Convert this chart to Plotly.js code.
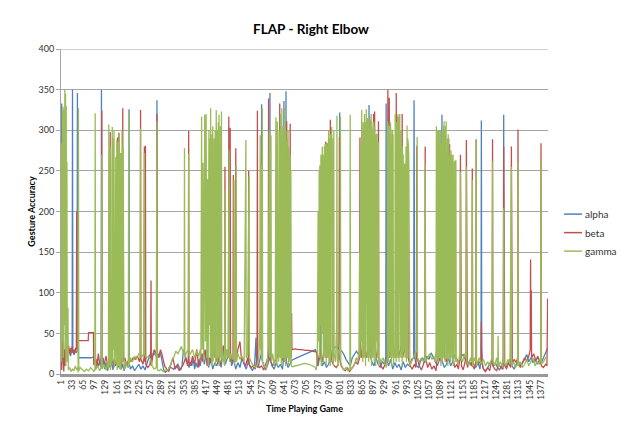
<!DOCTYPE html>
<html>
<head>
<meta charset="utf-8">
<script src="https://cdn.plot.ly/plotly-3.0.1.min.js"></script>
<style>
html,body{margin:0;padding:0;background:#fff;}
#chart{width:622px;height:421px;}
</style>
</head>
<body>
<div id="chart"></div>
<script>
// Tick labels of the category axis (every 32nd sample)
const tickLabels = ["1","33","65","97","129","161","193","225","257","289","321","353","385","417","449","481","513","545","577","609","641","673","705","737","769","801","833","865","897","929","961","993","1025","1057","1089","1121","1153","1185","1217","1249","1281","1313","1345","1377"];
const seriesNames = ["alpha","beta","gamma"];

// [sample index, value] pairs
const alpha = [[1,20],[2,40],[3,333],[4,30],[6,25],[8,40],[10,15],[12,30],[14,22],[16,35],[18,20],[20,28],[22,32],[24,26],[26,30],[28,22],[30,25],[32,28],[33,30],[34,350],[35,28],[38,24],[41,30],[44,26],[47,28],[48,346],[49,25],[51,20],[60,20],[70,20],[80,20],[88,20],[94,21],[96,15],[100,12],[104,18],[108,10],[112,14],[116,8],[117,350],[118,10],[122,20],[126,6],[130,14],[134,4],[138,12],[142,8],[146,15],[150,5],[154,18],[158,10],[162,22],[166,8],[170,16],[174,6],[178,12],[182,4],[186,10],[190,14],[194,8],[195,15],[196,326],[197,12],[200,6],[206,10],[212,4],[218,8],[224,12],[230,6],[236,10],[242,5],[248,14],[254,22],[258,25],[262,20],[266,26],[270,24],[274,22],[275,20],[276,337],[277,20],[280,24],[284,26],[288,22],[292,10],[296,4],[300,2],[304,3],[308,5],[312,9],[316,8],[320,7],[324,6],[328,8],[332,10],[336,12],[340,8],[344,5],[348,10],[352,30],[356,24],[360,18],[364,12],[368,8],[372,15],[376,10],[380,20],[384,6],[388,14],[392,8],[396,18],[400,10],[406,25],[412,12],[418,30],[424,8],[430,20],[436,6],[442,14],[448,10],[454,22],[460,8],[466,30],[472,12],[478,20],[484,34],[490,10],[496,18],[502,6],[508,14],[514,8],[520,20],[526,12],[532,6],[538,16],[544,8],[550,4],[556,12],[560,45],[562,10],[566,8],[570,16],[574,20],[575,25],[576,332],[577,18],[582,10],[588,5],[594,12],[598,20],[599,30],[600,346],[601,20],[606,10],[612,6],[618,14],[624,8],[630,12],[636,6],[639,20],[640,336],[641,15],[644,20],[645,30],[646,348],[647,15],[652,8],[658,12],[663,17],[672,19],[682,21],[692,23],[702,25],[712,27],[722,28],[730,30],[734,26],[738,10],[742,20],[744,40],[745,254],[746,20],[750,10],[756,15],[762,8],[768,12],[774,20],[780,30],[786,33],[792,34],[798,30],[799,40],[800,322],[801,30],[806,28],[812,24],[818,18],[824,14],[830,10],[836,20],[842,24],[848,28],[854,24],[860,30],[866,20],[872,28],[878,20],[882,30],[884,331],[886,25],[892,15],[898,10],[904,20],[910,12],[916,8],[922,15],[928,12],[932,20],[933,333],[934,20],[940,10],[946,18],[952,6],[958,14],[964,8],[970,12],[976,5],[982,15],[988,8],[994,12],[1000,10],[1006,18],[1012,20],[1013,337],[1014,197],[1015,20],[1020,10],[1026,8],[1032,16],[1038,20],[1044,14],[1050,22],[1056,18],[1062,26],[1068,20],[1074,14],[1080,10],[1086,18],[1092,20],[1093,319],[1094,15],[1100,8],[1106,12],[1112,20],[1118,10],[1124,15],[1130,24],[1136,18],[1142,14],[1148,22],[1154,24],[1160,18],[1166,10],[1172,16],[1178,20],[1184,12],[1190,8],[1196,15],[1202,6],[1205,20],[1206,312],[1207,30],[1210,8],[1216,4],[1222,6],[1228,12],[1234,16],[1240,10],[1246,14],[1252,8],[1258,5],[1264,10],[1269,15],[1270,319],[1271,12],[1276,8],[1282,14],[1288,18],[1294,10],[1300,6],[1306,12],[1312,16],[1318,10],[1324,14],[1330,18],[1336,24],[1342,15],[1348,20],[1354,14],[1360,18],[1366,12],[1372,16],[1378,14],[1384,20],[1390,26],[1396,32]];

const beta = [[1,181],[2,20],[3,5],[5,40],[7,15],[9,3],[11,30],[13,10],[15,38],[17,30],[19,34],[21,28],[23,35],[25,30],[27,24],[29,32],[31,28],[33,34],[35,26],[37,30],[39,24],[41,28],[43,32],[45,30],[46,200],[47,30],[49,36],[50,64],[51,41],[60,41],[70,41],[79,41],[80,51],[90,51],[94,51],[95,11],[100,20],[104,8],[108,25],[112,12],[116,18],[117,20],[118,324],[119,15],[124,10],[130,22],[136,8],[140,20],[141,30],[142,298],[143,20],[146,12],[150,18],[155,10],[160,14],[162,30],[163,291],[164,20],[166,40],[167,297],[168,20],[171,15],[174,272],[175,10],[177,40],[178,327],[179,15],[184,20],[190,10],[196,20],[202,15],[208,20],[214,18],[220,22],[226,15],[228,20],[229,325],[230,18],[236,12],[239,20],[240,280],[241,15],[242,30],[243,281],[244,12],[250,8],[256,12],[258,20],[259,115],[260,10],[264,22],[268,30],[272,25],[275,30],[276,320],[277,25],[282,20],[286,30],[290,25],[294,18],[298,10],[304,6],[310,3],[316,12],[322,20],[328,6],[334,10],[340,4],[346,8],[352,12],[358,20],[364,10],[366,20],[367,299],[368,15],[372,10],[378,22],[384,12],[390,30],[396,8],[402,25],[408,15],[414,30],[420,10],[426,20],[432,12],[438,30],[443,20],[444,291],[445,15],[450,20],[456,10],[462,18],[466,35],[470,25],[471,255],[472,20],[476,30],[481,20],[482,317],[483,20],[485,30],[486,303],[487,15],[490,20],[494,15],[495,245],[496,20],[500,25],[502,278],[503,15],[508,30],[514,40],[518,20],[524,15],[530,10],[536,20],[538,15],[539,250],[540,12],[546,8],[552,10],[558,6],[562,15],[563,20],[564,324],[565,12],[570,8],[576,10],[582,5],[588,12],[594,20],[595,30],[596,339],[597,20],[602,15],[608,10],[614,15],[620,20],[626,30],[627,40],[628,333],[629,30],[634,20],[640,15],[646,30],[647,40],[648,311],[649,30],[652,20],[656,30],[657,40],[658,308],[659,30],[661,20],[662,75],[663,30],[672,31],[682,30],[692,30],[702,29],[712,29],[722,28],[730,28],[734,27],[736,10],[740,20],[744,30],[750,15],[755,30],[759,30],[760,286],[761,20],[763,40],[764,284],[765,20],[770,30],[772,40],[773,313],[774,30],[778,15],[784,10],[790,8],[796,12],[798,30],[799,292],[800,20],[804,10],[810,6],[816,4],[822,8],[828,3],[834,6],[840,10],[846,15],[852,12],[857,20],[858,291],[859,30],[862,20],[866,40],[867,300],[868,30],[874,20],[880,30],[887,40],[888,313],[889,30],[892,20],[896,40],[897,320],[898,30],[899,50],[900,323],[901,30],[906,20],[910,40],[911,311],[912,20],[918,10],[924,6],[930,12],[936,20],[937,30],[938,350],[939,20],[941,40],[942,340],[943,20],[950,30],[956,20],[961,40],[962,346],[963,20],[966,40],[967,317],[968,20],[974,30],[978,40],[979,320],[980,20],[986,30],[994,40],[995,283],[996,20],[1002,10],[1008,6],[1014,12],[1018,8],[1020,30],[1021,281],[1022,20],[1028,10],[1034,5],[1040,12],[1044,20],[1045,280],[1046,20],[1052,8],[1058,14],[1064,6],[1070,10],[1076,4],[1082,30],[1083,299],[1084,20],[1090,15],[1098,40],[1099,300],[1100,20],[1106,15],[1114,40],[1115,283],[1116,20],[1122,40],[1123,262],[1124,20],[1130,8],[1136,12],[1140,6],[1145,20],[1146,270],[1147,20],[1148,263],[1149,10],[1154,5],[1158,12],[1162,20],[1163,288],[1164,10],[1165,60],[1166,8],[1172,15],[1178,10],[1179,20],[1180,253],[1181,10],[1186,6],[1190,15],[1191,289],[1192,10],[1198,16],[1204,12],[1205,20],[1206,64],[1207,15],[1212,6],[1218,3],[1224,8],[1230,4],[1237,20],[1238,289],[1239,10],[1244,6],[1250,4],[1256,12],[1262,8],[1268,6],[1269,20],[1270,280],[1271,30],[1272,265],[1273,12],[1278,6],[1284,14],[1290,8],[1291,20],[1292,280],[1293,30],[1294,257],[1295,12],[1300,18],[1306,14],[1310,20],[1311,301],[1312,12],[1318,8],[1324,14],[1330,20],[1336,16],[1342,22],[1346,30],[1347,141],[1348,40],[1349,103],[1350,20],[1356,25],[1362,16],[1368,22],[1374,12],[1376,20],[1377,284],[1378,10],[1384,8],[1390,12],[1394,10],[1395,40],[1396,93]];

const gamma = [[1,30],[2,284],[3,15],[4,120],[5,323],[6,40],[7,329],[8,20],[9,326],[10,60],[11,305],[12,350],[13,30],[14,345],[15,10],[16,330],[17,50],[18,261],[19,15],[21,82],[22,5],[26,8],[30,3],[34,6],[38,4],[42,10],[46,5],[49,8],[50,2],[51,327],[52,4],[56,8],[62,5],[68,3],[74,6],[80,4],[86,8],[92,5],[96,3],[98,6],[99,321],[100,5],[106,10],[112,4],[116,8],[117,30],[118,270],[119,6],[124,12],[130,5],[135,15],[137,5],[138,307],[139,10],[141,60],[142,280],[143,5],[146,20],[147,250],[148,304],[149,15],[151,290],[152,30],[153,300],[154,8],[156,40],[158,267],[159,12],[161,288],[162,5],[164,20],[165,286],[166,10],[168,296],[169,6],[171,40],[172,272],[173,5],[176,300],[177,15],[179,280],[180,10],[182,5],[186,15],[190,10],[194,8],[195,321],[196,10],[200,20],[206,15],[212,22],[218,18],[224,25],[228,24],[229,302],[230,20],[234,22],[238,25],[240,272],[241,24],[246,20],[252,22],[258,18],[262,10],[268,6],[274,8],[276,311],[277,5],[282,4],[288,6],[294,3],[300,5],[306,4],[312,8],[318,15],[324,20],[330,28],[336,25],[342,30],[346,34],[350,28],[354,25],[355,278],[356,20],[360,26],[366,30],[367,271],[368,22],[372,25],[378,30],[384,20],[390,28],[396,22],[400,30],[402,20],[404,317],[406,30],[408,260],[410,15],[413,319],[415,40],[417,320],[419,20],[421,240],[423,10],[425,300],[427,60],[428,290],[429,20],[430,327],[431,50],[432,280],[433,10],[434,295],[435,30],[436,305],[437,15],[438,270],[439,40],[440,290],[441,280],[442,20],[443,300],[444,10],[446,325],[447,30],[448,290],[449,15],[450,300],[451,20],[452,310],[453,40],[454,319],[455,10],[456,290],[457,30],[458,305],[459,20],[461,323],[462,15],[464,30],[466,20],[470,10],[471,226],[472,15],[476,30],[480,20],[483,276],[484,15],[488,25],[492,18],[496,20],[497,239],[498,12],[501,20],[503,257],[504,15],[508,25],[514,18],[520,22],[526,15],[531,288],[532,20],[536,25],[540,243],[541,20],[546,15],[552,10],[558,8],[564,12],[568,20],[571,60],[572,294],[573,30],[575,257],[576,20],[578,327],[579,15],[584,10],[590,6],[595,30],[598,300],[599,20],[601,60],[603,294],[604,15],[608,25],[612,10],[615,20],[617,316],[618,30],[619,290],[620,10],[621,311],[623,40],[624,300],[625,15],[626,300],[627,50],[628,310],[629,20],[630,320],[631,30],[632,290],[633,10],[634,327],[635,40],[636,300],[637,20],[638,305],[639,50],[640,310],[641,15],[642,327],[643,30],[644,295],[645,10],[646,300],[647,40],[648,290],[649,20],[650,290],[651,30],[652,300],[653,10],[654,280],[655,25],[656,270],[657,15],[658,270],[659,20],[660,250],[661,10],[664,9],[672,10],[680,11],[690,12],[700,13],[710,12],[720,10],[728,9],[733,5],[736,30],[738,200],[740,40],[741,250],[742,20],[743,257],[745,60],[746,270],[747,10],[748,262],[749,30],[750,280],[751,50],[752,270],[753,15],[754,275],[755,40],[756,280],[757,20],[758,283],[759,30],[760,275],[761,10],[762,285],[763,50],[764,280],[765,20],[766,280],[767,40],[768,300],[769,15],[770,290],[771,30],[772,270],[773,10],[774,295],[775,40],[776,280],[777,304],[778,20],[779,300],[780,30],[781,290],[782,10],[783,300],[784,25],[786,20],[788,15],[791,60],[792,318],[793,20],[796,10],[801,40],[802,317],[803,15],[806,10],[812,5],[818,8],[824,4],[829,6],[830,319],[831,5],[836,8],[842,12],[848,20],[852,15],[855,30],[857,150],[858,20],[860,280],[861,40],[863,325],[864,30],[865,300],[866,15],[867,310],[868,40],[869,300],[870,20],[871,320],[872,30],[873,310],[874,10],[876,326],[877,40],[878,310],[879,20],[880,315],[881,30],[882,300],[883,15],[884,315],[885,40],[886,305],[887,20],[888,300],[889,30],[890,320],[891,10],[892,310],[893,40],[894,305],[895,20],[896,300],[897,30],[898,310],[899,15],[900,305],[901,30],[902,300],[903,10],[904,295],[905,40],[906,290],[907,296],[908,20],[909,290],[910,30],[911,285],[912,10],[913,280],[914,20],[918,15],[924,20],[930,12],[934,8],[936,20],[937,311],[938,30],[939,300],[940,15],[941,305],[942,40],[943,300],[944,20],[945,310],[946,30],[947,295],[948,10],[949,300],[950,50],[951,300],[952,20],[953,295],[954,10],[956,30],[957,280],[958,20],[959,320],[960,40],[961,300],[962,15],[963,310],[964,30],[965,290],[966,20],[967,320],[968,40],[969,310],[970,15],[971,300],[972,320],[973,30],[974,310],[975,20],[976,300],[977,40],[978,290],[979,10],[980,280],[981,20],[982,270],[984,30],[986,259],[987,20],[988,250],[989,40],[990,280],[991,15],[992,300],[993,306],[994,20],[995,290],[996,30],[997,280],[998,260],[999,15],[1001,10],[1006,15],[1012,20],[1016,25],[1021,30],[1022,292],[1023,20],[1028,15],[1034,20],[1040,15],[1044,20],[1045,259],[1046,15],[1052,20],[1058,25],[1064,18],[1070,22],[1074,15],[1076,30],[1077,305],[1078,20],[1079,280],[1080,40],[1081,300],[1082,15],[1083,290],[1084,30],[1085,300],[1086,20],[1087,295],[1088,40],[1089,300],[1090,10],[1091,290],[1092,30],[1093,285],[1094,15],[1095,300],[1096,40],[1097,305],[1098,20],[1099,311],[1100,30],[1101,300],[1102,15],[1103,305],[1104,40],[1105,311],[1106,20],[1107,300],[1108,30],[1109,290],[1110,10],[1111,295],[1112,40],[1113,290],[1114,20],[1115,280],[1116,30],[1117,270],[1118,15],[1119,275],[1120,40],[1121,270],[1122,20],[1123,265],[1124,30],[1125,270],[1126,10],[1127,265],[1128,30],[1129,260],[1130,20],[1131,263],[1132,15],[1133,263],[1134,20],[1138,12],[1142,18],[1145,30],[1146,249],[1147,20],[1152,15],[1158,25],[1162,20],[1163,255],[1164,15],[1170,10],[1175,20],[1179,15],[1180,239],[1181,10],[1186,20],[1190,15],[1191,288],[1192,10],[1196,15],[1200,20],[1206,12],[1212,18],[1218,10],[1224,15],[1230,10],[1236,20],[1238,262],[1239,15],[1244,10],[1250,20],[1253,10],[1254,47],[1255,8],[1260,15],[1266,10],[1269,20],[1270,204],[1271,15],[1276,10],[1282,18],[1288,12],[1292,255],[1293,10],[1298,15],[1304,8],[1310,12],[1311,260],[1312,10],[1318,15],[1324,8],[1330,12],[1336,18],[1342,10],[1348,15],[1354,20],[1360,10],[1366,15],[1372,12],[1376,20],[1377,265],[1378,12],[1384,15],[1390,20],[1396,18]];

const seriesData = [alpha, beta, gamma];
const colors = ["#4F81BD", "#C0504D", "#9BBB59"];
const tickVals = tickLabels.map(Number);
const FONT = "Lato, 'Open Sans', sans-serif";

const traces = seriesData.map((pts, i) => ({
  type: "scatter",
  mode: "lines",
  name: seriesNames[i],
  x: pts.map(p => p[0]),
  y: pts.map(p => p[1]),
  line: {color: colors[i], width: 1.3},
  hoverinfo: "skip",
  showlegend: false
}));

// Excel-style legend on the right: short line + label per series
const legendShapes = seriesNames.map((n, i) => ({
  type: "line", xref: "paper", yref: "paper",
  x0: 1.033, x1: 1.070, y0: 0.492 - i * 0.057, y1: 0.492 - i * 0.057,
  line: {color: colors[i], width: 1.5}
}));
const legendLabels = seriesNames.map((n, i) => ({
  text: n, xref: "paper", yref: "paper", x: 1.072, y: 0.492 - i * 0.057,
  xanchor: "left", yanchor: "middle", showarrow: false,
  font: {family: FONT, size: 10, color: "#333"}
}));

// top gridline at 400
const topGrid = {type: "line", xref: "paper", yref: "y", x0: 0, x1: 1, y0: 400, y1: 400,
                 line: {color: "#a6a6a6", width: 1}};

const layout = {
  width: 622, height: 421,
  margin: {l: 61, r: 74, t: 49, b: 47, pad: 0, autoexpand: false},
  paper_bgcolor: "#fff", plot_bgcolor: "#fff",
  font: {family: FONT, size: 9, color: "#333"},
  title: {text: "<b>FLAP - Right Elbow</b>", x: 0.5, xref: "container", y: 0.93, yref: "container", yanchor: "middle",
          font: {family: FONT, size: 13.5, color: "#000"}},
  showlegend: false,
  shapes: [topGrid].concat(legendShapes),
  annotations: legendLabels,
  xaxis: {
    range: [1, 1397], tickmode: "array", tickvals: tickVals, ticktext: tickLabels,
    tickangle: -90, tickfont: {size: 8.5, color: "#333"},
    showgrid: false, zeroline: false, showline: true, linecolor: "#999", linewidth: 2.5,
    ticks: "", fixedrange: true,
    title: {text: "<b>Time Playing Game</b>", font: {family: FONT, size: 9, color: "#000"}, standoff: 7}
  },
  yaxis: {
    range: [0, 400], dtick: 50, tick0: 0, tickfont: {size: 9, color: "#333"},
    showgrid: true, gridcolor: "#a6a6a6", gridwidth: 1, zeroline: false,
    showline: true, linecolor: "#a6a6a6", linewidth: 1, ticks: "outside", ticklen: 4, tickcolor: "#a6a6a6",
    fixedrange: true,
    title: {text: "<b>Gesture Accuracy</b>", font: {family: FONT, size: 9, color: "#000"}, standoff: 1}
  }
};

Plotly.newPlot("chart", traces, layout, {staticPlot: true, displayModeBar: false});
</script>
</body>
</html>
